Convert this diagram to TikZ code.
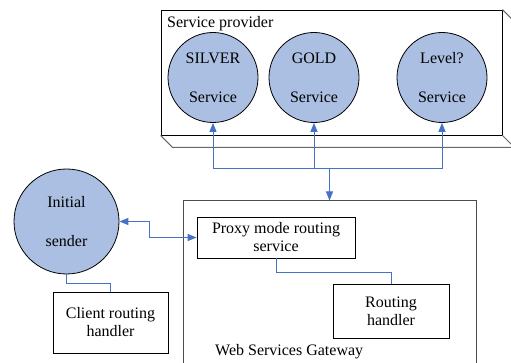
\documentclass[tikz,border=0pt]{standalone}
\usepackage{fontspec}
\setmainfont{Liberation Serif}
\usetikzlibrary{arrows.meta}
\definecolor{cfill}{HTML}{AABFE1}
\definecolor{cline}{HTML}{4472C4}
\tikzset{
  txt/.style={font=\fontsize{16}{18}\selectfont},
  svc/.style={txt,circle,draw=black,fill=cfill,line width=0.8pt,minimum size=90pt,inner sep=0pt,align=center},
  boxn/.style={txt,rectangle,draw=black,line width=0.8pt,inner sep=0pt,align=center},
  conn/.style={draw=cline,line width=1pt},
  tip/.style={-{Triangle[length=9pt,width=7pt]}},
  tips/.style={{Triangle[length=9pt,width=7pt]}-{Triangle[length=9pt,width=7pt]}}
}
\begin{document}
\begin{tikzpicture}[x=1pt,y=-1pt]
\useasboundingbox (0,0) rectangle (511,363);
\clip (0,0) rectangle (511,363);
% service provider 3D box
\node[rectangle,draw=black,line width=0.8pt,minimum width=341pt,minimum height=125pt,inner sep=0pt] (sp) at (331.5,72.5) {};
\draw[black!60,line width=1pt] (sp.south west) -- ++(12,12) coordinate (spbl) -- (spbl -| 516,0) coordinate (spbr);
\draw[black!60,line width=1pt] (sp.south east) -- ++(12,12);
\draw[black!60,line width=1pt] (sp.north east) -- ++(12,12) -- (spbr);
\node[txt,anchor=base west,inner sep=0pt] (splabel) at (167,28) {Service provider};
% services
\node[svc] (silver) at (213,77.5) {SILVER\\[21pt]Service};
\node[svc] (gold) at (314,77.5) {GOLD\\[21pt]Service};
\node[svc] (level) at (442,77.5) {Level?\\[21pt]Service};
% gateway
\node[rectangle,draw=black!70,line width=1pt,minimum width=293pt,minimum height=200pt,inner sep=0pt] (gw) at (329.5,301) {};
\node[txt,anchor=base west,inner sep=0pt] (gwlabel) at (215,355) {Web Services Gateway};
\node[boxn,minimum width=158pt,minimum height=41pt] (proxy) at (276,237.5) {Proxy mode routing\\service};
\node[boxn,minimum width=116pt,minimum height=54pt] (rh) at (391,311) {Routing\\handler};
% initial sender
\node[svc,minimum size=105pt] (sender) at (66.5,221.5) {Initial\\[21pt]sender};
\node[boxn,minimum width=115pt,minimum height=61pt] (client) at (110.5,322.5) {Client routing\\handler};
% connectors
\coordinate (bus) at (329.5,169);
\draw[conn] (silver.south |- bus) -- (level.south |- bus);
\draw[conn,tip] (silver.south |- bus) -- (silver.south);
\draw[conn,tip] (gold.south |- bus) -- (gold.south);
\draw[conn,tip] (level.south |- bus) -- (level.south);
\draw[conn,tip] (bus) -- (gw.north);
\draw[conn,tips] (sender.east) -- ++(30,0) |- (proxy.west);
\draw[conn] (sender.south) -- ++(0,9) -| (client.north);
\draw[conn] (proxy.south) -- ++(0,14) -| (rh.north);
\end{tikzpicture}
\end{document}
